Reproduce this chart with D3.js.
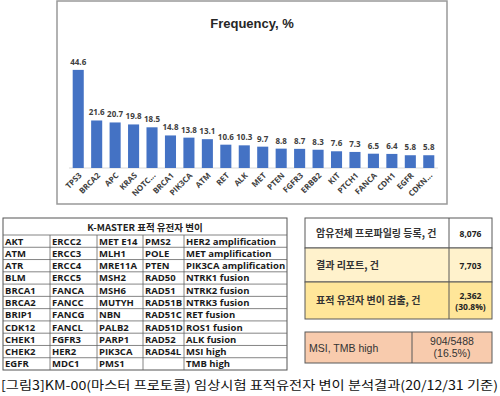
<!DOCTYPE html>
<html>
<head>
<meta charset="utf-8">
<script src="https://cdn.jsdelivr.net/npm/d3@7"></script>
<style>
  body { margin: 0; background: #fff; }
  svg { display: block; }
</style>
</head>
<body>
<div id="chart"></div>
<script>
// --- Data ---
const genes = ["TPS3", "BRCA2", "APC", "KRAS", "NOTC...", "BRCA1", "PIK3CA", "ATM", "RET", "ALK",
               "MET", "PTEN", "FGFR3", "ERBB2", "KIT", "PTCH1", "FANCA", "CDH1", "EGFR", "CDKN..."];
const freq = [44.6, 21.6, 20.7, 19.8, 18.5, 14.8, 13.8, 13.1, 10.6, 10.3,
              9.7, 8.8, 8.7, 8.3, 7.6, 7.3, 6.5, 6.4, 5.8, 5.8];

const tableTitle = "K-MASTER 표적 유전자 변이";
const col1 = ["AKT", "ATM", "ATR", "BLM", "BRCA1", "BRCA2", "BRIP1", "CDK12", "CHEK1", "CHEK2", "EGFR"];
const col2 = ["ERCC2", "ERCC3", "ERCC4", "ERCC5", "FANCA", "FANCC", "FANCG", "FANCL", "FGFR3", "HER2", "MDC1"];
const col3 = ["MET E14", "MLH1", "MRE11A", "MSH2", "MSH6", "MUTYH", "NBN", "PALB2", "PARP1", "PIK3CA", "PMS1"];
const col4 = ["PMS2", "POLE", "PTEN", "RAD50", "RAD51", "RAD51B", "RAD51C", "RAD51D", "RAD52", "RAD54L", ""];
const col5 = ["HER2 amplification", "MET amplification", "PIK3CA amplification", "NTRK1 fusion", "NTRK2 fusion",
              "NTRK3 fusion", "RET fusion", "ROS1 fusion", "ALK fusion", "MSI high", "TMB high"];

const summaryLabels = ["암유전체 프로파일링 등록, 건", "결과 리포트, 건", "표적 유전자 변이 검출, 건"];
const summaryValues = [["8,076"], ["7,703"], ["2,362", "(30.8%)"]];
const msiLabel = "MSI, TMB high";
const msiValue = ["904/5488", "(16.5%)"];

const caption = "[그림3]KM-00(마스터 프로토콜) 임상시험 표적유전자 변이 분석결과(20/12/31 기준)";

// --- SVG ---
const svg = d3.select("#chart").append("svg")
    .attr("width", 500)
    .attr("height", 396);

const kr = "'Noto Sans CJK KR', 'Noto Sans', sans-serif";

// --- Bar chart ---
svg.append("rect")
    .attr("x", 57).attr("y", 1)
    .attr("width", 390).attr("height", 203)
    .attr("fill", "#fff")
    .attr("stroke", "#999")
    .attr("stroke-width", 1.5);

svg.append("text")
    .attr("x", 252).attr("y", 28)
    .attr("text-anchor", "middle")
    .attr("font-family", "'Liberation Sans', Arial, sans-serif")
    .attr("font-weight", "bold")
    .attr("font-size", "13px")
    .attr("fill", "#262626")
    .text("Frequency, %");

const x = d3.scaleBand()
    .domain(genes)
    .range([69, 438])
    .paddingInner(0.4)
    .paddingOuter(0.2);

const y = d3.scaleLinear()
    .domain([0, 50])
    .range([168, 58]);

svg.append("line")
    .attr("x1", 69).attr("x2", 438)
    .attr("y1", y(0)).attr("y2", y(0))
    .attr("stroke", "#d9d9d9");

svg.selectAll("rect.bar")
    .data(genes)
    .enter().append("rect")
    .attr("class", "bar")
    .attr("x", d => x(d))
    .attr("y", (d, i) => y(freq[i]))
    .attr("width", x.bandwidth())
    .attr("height", (d, i) => y(0) - y(freq[i]))
    .attr("fill", "#4472c4");

svg.selectAll("text.val")
    .data(genes)
    .enter().append("text")
    .attr("class", "val")
    .attr("x", d => x(d) + x.bandwidth() / 2)
    .attr("y", (d, i) => y(freq[i]) - 5)
    .attr("text-anchor", "middle")
    .attr("font-family", "'Open Sans', sans-serif")
    .attr("font-weight", "bold")
    .attr("font-size", "8px")
    .attr("fill", "#404040")
    .text((d, i) => freq[i].toFixed(1));

svg.selectAll("text.cat")
    .data(genes)
    .enter().append("text")
    .attr("class", "cat")
    .attr("transform", d => `translate(${x(d) + x.bandwidth() / 2 + 4},${y(0) + 8}) rotate(-45)`)
    .attr("text-anchor", "end")
    .attr("font-family", "'Open Sans', sans-serif")
    .attr("font-weight", "bold")
    .attr("font-size", "8px")
    .attr("fill", "#404040")
    .text(d => d);

// --- Gene table ---
const colEdges = [3, 50, 97, 143, 184, 287];
const cols = [col1, col2, col3, col4, col5];
const rowY = d3.scaleBand()
    .domain(d3.range(col1.length))
    .range([235, 370]);

const gt = svg.append("g");
gt.append("rect")
    .attr("x", 3).attr("y", 218)
    .attr("width", 284).attr("height", 152)
    .attr("fill", "#fff")
    .attr("stroke", "#555");

gt.append("text")
    .attr("x", 145).attr("y", 231)
    .attr("text-anchor", "middle")
    .attr("font-family", kr)
    .attr("font-weight", "bold")
    .attr("font-size", "9.5px")
    .attr("fill", "#222")
    .text(tableTitle);

// horizontal lines
gt.selectAll("line.h")
    .data(d3.range(col1.length))
    .enter().append("line")
    .attr("x1", 3).attr("x2", 287)
    .attr("y1", d => rowY(d)).attr("y2", d => rowY(d))
    .attr("stroke", "#666").attr("stroke-width", 0.8);

// vertical lines
gt.selectAll("line.v")
    .data(colEdges.slice(1, -1))
    .enter().append("line")
    .attr("x1", d => d).attr("x2", d => d)
    .attr("y1", 235).attr("y2", 370)
    .attr("stroke", "#666").attr("stroke-width", 0.8);

cols.forEach((col, ci) => {
    gt.selectAll(null)
        .data(col)
        .enter().append("text")
        .attr("x", colEdges[ci] + 2)
        .attr("y", (d, i) => rowY(i) + rowY.bandwidth() / 2 + 3.5)
        .attr("font-family", "'Open Sans', sans-serif")
        .attr("font-weight", "bold")
        .attr("font-size", "9.5px")
        .attr("fill", "#1a1a1a")
        .text(d => d);
});

// --- Summary table ---
const sumEdges = [218, 248, 282, 319];
const sumFills = ["#ffffff", "#fff2cc", "#ffe699"];
const st = svg.append("g");

summaryLabels.forEach((lab, i) => {
    const y0 = sumEdges[i], y1 = sumEdges[i + 1];
    st.append("rect")
        .attr("x", 305).attr("y", y0)
        .attr("width", 187).attr("height", y1 - y0)
        .attr("fill", sumFills[i])
        .attr("stroke", "#595959");
    st.append("line")
        .attr("x1", 449).attr("x2", 449)
        .attr("y1", y0).attr("y2", y1)
        .attr("stroke", "#595959");
    st.append("text")
        .attr("x", 316).attr("y", (y0 + y1) / 2 + 3.5)
        .attr("font-family", kr)
        .attr("font-weight", "bold")
        .attr("font-size", "10px")
        .attr("fill", "#333")
        .text(lab);
    const vals = summaryValues[i];
    vals.forEach((v, j) => {
        st.append("text")
            .attr("x", 470.5)
            .attr("y", (y0 + y1) / 2 + 3.5 + (j - (vals.length - 1) / 2) * 11)
            .attr("text-anchor", "middle")
            .attr("font-family", "'Open Sans', sans-serif")
            .attr("font-weight", "bold")
            .attr("font-size", "8.5px")
            .attr("fill", "#222")
            .text(v);
    });
});

// --- MSI box ---
st.append("rect")
    .attr("x", 305).attr("y", 332)
    .attr("width", 187).attr("height", 31)
    .attr("fill", "#f8cbad")
    .attr("stroke", "#595959");
st.append("line")
    .attr("x1", 412).attr("x2", 412)
    .attr("y1", 332).attr("y2", 363)
    .attr("stroke", "#595959");
st.append("text")
    .attr("x", 309).attr("y", 351.5)
    .attr("font-family", "'Liberation Sans', Arial, sans-serif")
    .attr("font-size", "10.5px")
    .attr("fill", "#333")
    .text(msiLabel);
msiValue.forEach((v, j) => {
    st.append("text")
        .attr("x", 452).attr("y", 345 + j * 12)
        .attr("text-anchor", "middle")
        .attr("font-family", "'Liberation Sans', Arial, sans-serif")
        .attr("font-size", "10.5px")
        .attr("fill", "#333")
        .text(v);
});

// --- Caption ---
svg.append("text")
    .attr("x", 1).attr("y", 390)
    .attr("font-family", kr)
    .attr("font-size", "12.5px")
    .attr("fill", "#111")
    .attr("textLength", 497)
    .attr("lengthAdjust", "spacingAndGlyphs")
    .text(caption);
</script>
</body>
</html>
